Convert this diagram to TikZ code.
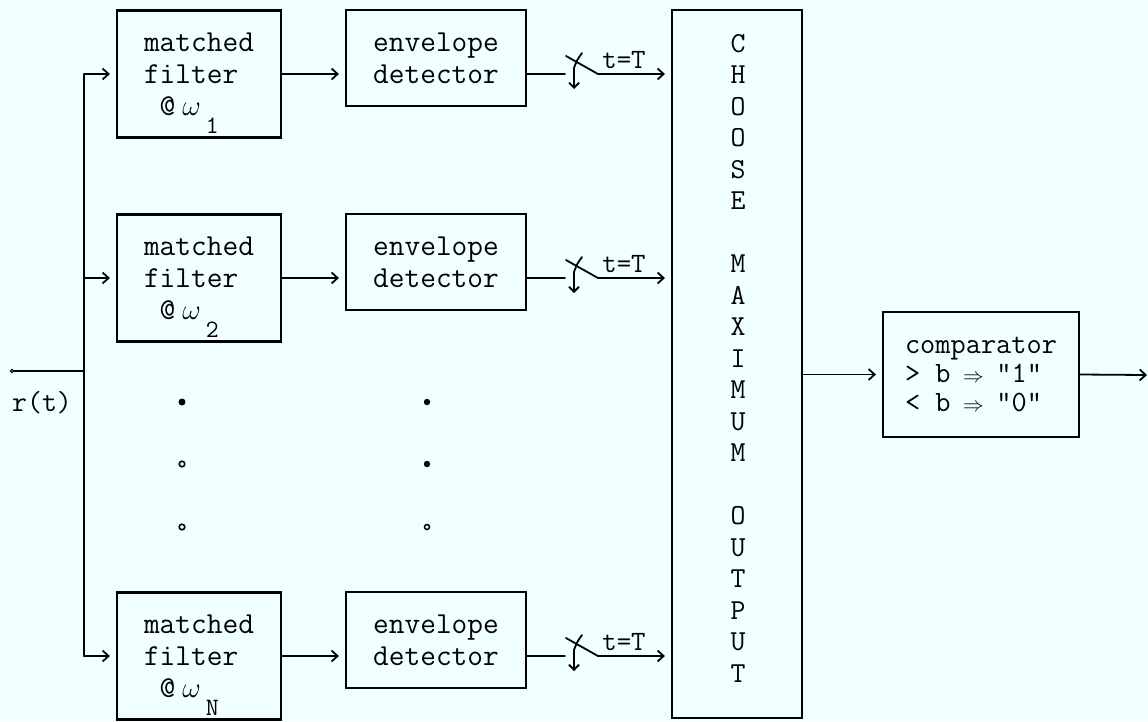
\documentclass[tikz,border=0pt]{standalone}
\usepackage{fontspec}
\usetikzlibrary{arrows.meta}
\definecolor{paper}{RGB}{240,255,255}

\begin{document}
\begin{tikzpicture}[x=1pt,y=-1pt,
  tt/.style={font=\ttfamily\fontsize{30.5}{32}\selectfont, text=black},
  blk/.style={draw, line width=2.2pt, inner sep=0pt},
  filterbox/.style={blk, tt, align=left, minimum width=164pt, minimum height=127pt},
  envbox/.style={blk, tt, align=left, minimum width=180pt, minimum height=96pt},
  wire/.style={line width=1.8pt, line cap=round},
  arr/.style={wire, -{Straight Barb[length=6pt,width=11pt]}, shorten >=6pt},
  actuator/.style={wire, -{Straight Barb[length=5pt,width=10pt]}},
]
% page and background
\fill[paper] (0,0) rectangle (1148,721);
\useasboundingbox (0,0) rectangle (1148,721);

% matched filters
\node[filterbox] (mf1) at (199,74)
  {matched\\filter\\\phantom{x}@\hspace{7pt}\scalebox{1.15}{$\omega$}\hspace{5pt}\raisebox{-18pt}[0pt][0pt]{\fontsize{25}{25}\selectfont 1}};
\node[filterbox] (mf2) at (199,278)
  {matched\\filter\\\phantom{x}@\hspace{7pt}\scalebox{1.15}{$\omega$}\hspace{5pt}\raisebox{-18pt}[0pt][0pt]{\fontsize{25}{25}\selectfont 2}};
\node[filterbox] (mfN) at (199,656)
  {matched\\filter\\\phantom{x}@\hspace{7pt}\scalebox{1.15}{$\omega$}\hspace{5pt}\raisebox{-18pt}[0pt][0pt]{\fontsize{25}{25}\selectfont N}};

% envelope detectors
\node[envbox] (env1) at (436,58)  {envelope\\detector};
\node[envbox] (env2) at (436,262) {envelope\\detector};
\node[envbox] (envN) at (436,640) {envelope\\detector};

% choose-maximum block
\node[blk, minimum width=130pt, minimum height=708pt] (cmo) at (737,364) {};
\node[font=\ttfamily\fontsize{29}{31.5}\selectfont, align=center, inner sep=0pt] (cmotxt) at (738,358)
  {C\\H\\O\\O\\S\\E\\~\\M\\A\\X\\I\\M\\U\\M\\~\\O\\U\\T\\P\\U\\T};

% comparator
\node[blk, font=\ttfamily\fontsize{29.5}{29}\selectfont, align=left, minimum width=196pt, minimum height=125pt] (cmp) at (981,374.5)
  {comparator\\
   > b \makebox[0.525em]{\fontsize{20}{20}\selectfont$\Rightarrow$} "1"\\
   < b \makebox[0.525em]{\fontsize{20}{20}\selectfont$\Rightarrow$} "0"};

% input r(t) and distribution bus
\coordinate (rin) at (12,371);
\coordinate (bus1) at (84,74);
\coordinate (bus2) at (84,278);
\coordinate (busN) at (84,656);
\draw[wire] (bus1) -- (busN);
\draw[wire] (rin) -- (rin -| bus1);
\draw[line width=1pt, fill=paper] (rin) circle (1.6);
\node[font=\ttfamily\fontsize{29}{29}\selectfont] (rlab) at (42,403) {r(t)};

\draw[arr] (bus1) -- (bus1 -| mf1.west);
\draw[arr] (bus2) -- (bus2 -| mf2.west);
\draw[arr] (busN) -- (busN -| mfN.west);

% filter -> envelope detector
\draw[arr] (mf1.east) -- (mf1.east -| env1.west);
\draw[arr] (mf2.east) -- (mf2.east -| env2.west);
\draw[arr] (mfN.east) -- (mfN.east -| envN.west);

% sampling switches at t=T
\foreach \r/\y in {1/74,2/278,N/656}{
  \coordinate (sw\r) at (565,\y);
  \coordinate (sp\r) at (598,\y);
  \draw[wire] (env\r.east |- sw\r) -- (sw\r);
  \draw[wire] ([shift={(1,-18)}]sw\r) -- (sp\r);
  \draw[actuator] ([shift={(17,-21)}]sw\r) .. controls ([shift={(12,-14)}]sw\r) .. ([shift={(9,-6)}]sw\r) -- ([shift={(9,15)}]sw\r);
  \draw[arr] (sp\r) -- (sp\r -| cmo.west);
  \node[font=\ttfamily\fontsize{28}{28}\selectfont] (tT\r) at (624,\y-14) {t=T};
}

% selected output to comparator, and decision output
\draw[arr] (cmo.east |- cmp.west) -- (cmp.west);
\coordinate (dout) at (1147,375);
\draw[arr, shorten >=0pt] (cmp.east) -- (dout);

% ellipsis dots between branches
\fill (182,402) circle (3.5);
\draw[line width=1.6pt] (182,464) circle (2.8);
\draw[line width=1.6pt] (182,527) circle (2.8);
\fill (427,402) circle (3.2);
\fill (427,464) circle (3.2);
\draw[line width=1.5pt] (427,527) circle (2.5);
\end{tikzpicture}
\end{document}
